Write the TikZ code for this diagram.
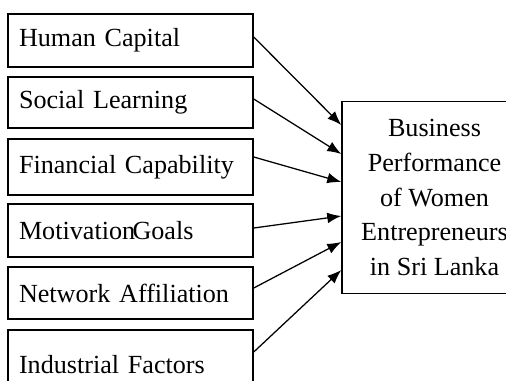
\documentclass[tikz,border=0pt]{standalone}
\usepackage{fontspec}
\setmainfont{Liberation Serif}
\usetikzlibrary{arrows.meta}
\begin{document}
\begin{tikzpicture}[x=0.75pt,y=-0.75pt,
  lbox/.style={draw,line width=1.1pt,rectangle,minimum width=245*0.75pt,
    text width=223*0.75pt,inner xsep=11*0.75pt,align=left,
    font=\fontsize{19.6}{26}\selectfont},
  rbox/.style={draw,line width=1.1pt,rectangle,minimum width=185*0.75pt,
    minimum height=192*0.75pt,align=center,
    font=\fontsize{19.6}{26.2}\selectfont},
  arr/.style={line width=0.95pt,-{Latex[length=10.5pt,width=8pt]}}]
\useasboundingbox (0,0) rectangle (506,380);
\clip (0,0) rectangle (506,380);
\node[lbox,minimum height=53*0.75pt] (h1) at (130.5,40.5) {Human Capital};
\node[lbox,minimum height=51*0.75pt] (h2) at (130.5,102.5) {Social Learning};
\node[lbox,minimum height=56*0.75pt] (h3) at (130.5,167) {Financial Capability};
\node[lbox,minimum height=53*0.75pt] (h4) at (130.5,230.5) {Motivation\kern-0.1em Goals};
\node[lbox,minimum height=52*0.75pt] (h5) at (130.5,293) {Network Affiliation};
\node[lbox,minimum height=70*0.75pt] (h6) at (130.5,365) {Industrial Factors};
\node[rbox] (b) at (434.5,197.5) {Business\\Performance\\of Women\\Entrepreneurs\\in Sri Lanka};
\draw[arr] ([yshift=3.5*0.75pt]h1.east) -- ([yshift=72.5*0.75pt]b.west);
\draw[arr] ([yshift=3.5*0.75pt]h2.east) -- ([yshift=43.5*0.75pt]b.west);
\draw[arr] ([yshift=10*0.75pt]h3.east) -- ([yshift=15.5*0.75pt]b.west);
\draw[arr] ([yshift=2.5*0.75pt]h4.east) -- ([yshift=-18.5*0.75pt]b.west);
\draw[arr] ([yshift=5*0.75pt]h5.east) -- ([yshift=-44.5*0.75pt]b.west);
\draw[arr] ([yshift=13*0.75pt]h6.east) -- ([yshift=-72.5*0.75pt]b.west);
\end{tikzpicture}
\end{document}
